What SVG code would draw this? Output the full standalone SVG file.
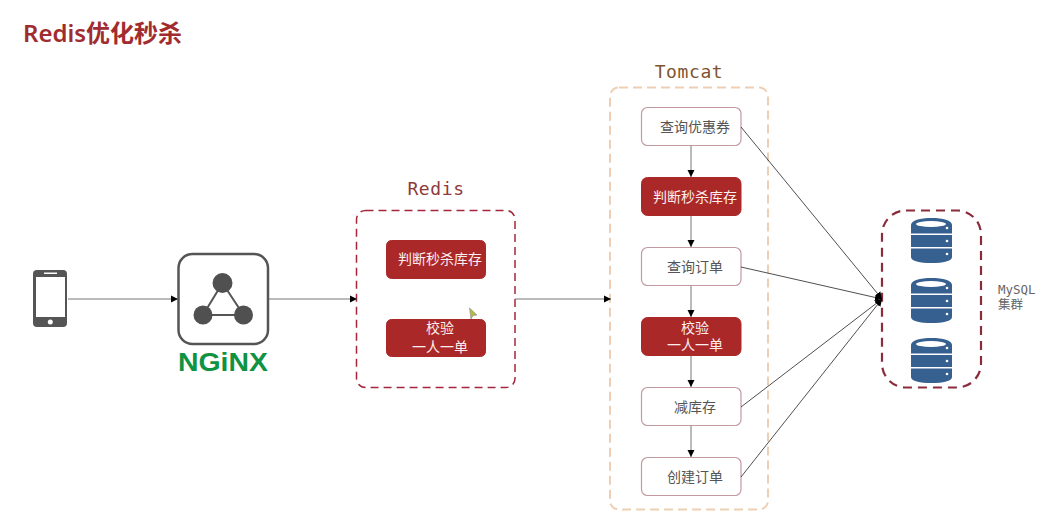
<svg xmlns="http://www.w3.org/2000/svg" width="1052" height="521" viewBox="0 0 1052 521">
<style>
.cn{font-family:"Liberation Sans","Noto Sans CJK SC",sans-serif;font-size:14px}
.mono{font-family:"DejaVu Sans Mono","Noto Sans CJK SC",monospace}
.red rect{fill:#ab2828;stroke:#ab2828;stroke-width:1}
.red text{fill:#fbeeee;text-anchor:middle}
.white rect{fill:#fff;stroke:#c49aa2;stroke-width:1.2}
.white text{fill:#555;text-anchor:middle}
.conn line{stroke:#777;stroke-width:1;fill:none}
.conn .dark{stroke:#222;stroke-width:.8}
.db{fill:#36608f}
</style>
<defs>
<marker id="arr" markerWidth="8" markerHeight="8" refX="7" refY="4" orient="auto" markerUnits="userSpaceOnUse"><path d="M0,0.5L7,4L0,7.5Z" fill="#000"/></marker>
<g id="dbicon">
<path class="db" d="M0,7C0,2.5 9,0 20.5,0S41,2.5 41,7V15.500H0Z"/>
<ellipse cx="20" cy="6" rx="15" ry="3" fill="#fff"/>
<path class="db" d="M0,17H41V29H0Z"/>
<path class="db" d="M0,30.500H41V39C41,43 32,45 20.500,45S0,43 0,39Z"/>
<circle cx="36" cy="10" r="1.300" fill="#fff"/><circle cx="36" cy="23" r="1.300" fill="#fff"/><circle cx="36" cy="36" r="1.300" fill="#fff"/>
</g>
</defs>
<rect width="1052" height="521" fill="#fff"/>
<text x="23" y="42" font-family="'Noto Sans','Noto Sans CJK SC',sans-serif" font-size="24" font-weight="600" fill="#a12c2f">Redis优化秒杀</text>

<g id="redis-group">
<rect x="356.500" y="210.500" width="158.500" height="177" rx="9" fill="#fff" stroke="#a5273c" stroke-width="1.500" stroke-dasharray="8 5"/>
<text class="mono" x="436" y="195" font-size="18" letter-spacing=".6" fill="#8e3a3c" text-anchor="middle">Redis</text>
</g>
<g id="tomcat-group">
<rect x="610" y="87.500" width="158" height="422" rx="9" fill="#fff" stroke="#eecfb3" stroke-width="2" stroke-dasharray="9 5"/>
<text class="mono" x="689" y="78" font-size="18" letter-spacing=".6" fill="#7f5530" text-anchor="middle">Tomcat</text>
</g>
<g id="mysql-group">
<rect x="882" y="210.500" width="99" height="177" rx="24" fill="#fff" stroke="#8a2c3c" stroke-width="2.200" stroke-dasharray="9 6"/>
<text class="mono" x="998" y="294" font-size="12.500" fill="#666">MySQL</text>
<text class="cn" x="998" y="309" style="font-size:12.500px" fill="#666">集群</text>
</g>

<g id="phone">
<rect x="33" y="270" width="34" height="57" rx="4" fill="#555"/>
<rect x="36" y="277" width="29" height="40" fill="#fff"/>
<rect x="44" y="272.500" width="13" height="1.500" fill="#fff"/>
<circle cx="50.300" cy="322" r="2.500" fill="#fff"/>
</g>
<g id="nginx">
<rect x="178.500" y="254" width="89.500" height="90" rx="14" fill="#fff" stroke="#555" stroke-width="2.500"/>
<path d="M222.500,283L203,315H243.500Z" fill="none" stroke="#555" stroke-width="2"/>
<circle cx="222.500" cy="283" r="10" fill="#505050"/>
<circle cx="203" cy="315" r="9.500" fill="#505050"/>
<circle cx="243.500" cy="315" r="9.500" fill="#505050"/>
<text x="178" y="371" font-family="'Liberation Sans',sans-serif" font-size="25" font-weight="700" fill="#0f9342" textLength="90" lengthAdjust="spacingAndGlyphs">NGiNX</text>
</g>

<g id="redis-stock" class="red"><rect x="386.500" y="240.500" width="99" height="38" rx="5"/><text class="cn" x="440" y="264">判断秒杀库存</text></g>
<g id="redis-check" class="red"><rect x="386.500" y="319.500" width="99" height="37" rx="5"/><text class="cn" x="440" y="333">校验</text><text class="cn" x="440" y="352">一人一单</text></g>

<g id="t-query" class="white"><rect x="641.500" y="107.500" width="99.500" height="38" rx="6"/><text class="cn" x="695" y="132">查询优惠券</text></g>
<g id="t-stock" class="red"><rect x="641.500" y="177.500" width="99.500" height="38" rx="6"/><text class="cn" x="695" y="202">判断秒杀库存</text></g>
<g id="t-order" class="white"><rect x="641.500" y="247.500" width="99.500" height="38" rx="6"/><text class="cn" x="695" y="272">查询订单</text></g>
<g id="t-check" class="red"><rect x="641.500" y="317.500" width="99.500" height="38" rx="6"/><text class="cn" x="695" y="333">校验</text><text class="cn" x="695" y="350">一人一单</text></g>
<g id="t-reduce" class="white"><rect x="641.500" y="387.500" width="99.500" height="38" rx="6"/><text class="cn" x="695" y="412">减库存</text></g>
<g id="t-create" class="white"><rect x="641.500" y="457.500" width="99.500" height="38" rx="6"/><text class="cn" x="695" y="482">创建订单</text></g>

<g id="db1"><use href="#dbicon" x="911" y="218"/></g>
<g id="db2"><use href="#dbicon" x="911" y="278"/></g>
<g id="db3"><use href="#dbicon" x="911" y="338"/></g>

<g id="connectors" class="conn">
<line x1="68" y1="299" x2="178" y2="299" marker-end="url(#arr)"/>
<line x1="269" y1="299" x2="357" y2="299" marker-end="url(#arr)"/>
<line x1="515" y1="299" x2="611" y2="299" marker-end="url(#arr)"/>
<line x1="691" y1="146" x2="691" y2="177" marker-end="url(#arr)"/>
<line x1="691" y1="216" x2="691" y2="247" marker-end="url(#arr)"/>
<line x1="691" y1="286" x2="691" y2="317" marker-end="url(#arr)"/>
<line x1="691" y1="356" x2="691" y2="387" marker-end="url(#arr)"/>
<line x1="691" y1="426" x2="691" y2="457" marker-end="url(#arr)"/>
<line class="dark" x1="741" y1="127" x2="882" y2="299" marker-end="url(#arr)"/>
<line class="dark" x1="741" y1="267" x2="882" y2="299" marker-end="url(#arr)"/>
<line class="dark" x1="741" y1="407" x2="882" y2="299" marker-end="url(#arr)"/>
<line class="dark" x1="741" y1="477" x2="882" y2="299" marker-end="url(#arr)"/>
</g>

<g id="cursor"><path d="M469.500,308L477,315L473,315.500L471,319Z" fill="#b5b84a" stroke="#888" stroke-width=".6"/></g>
</svg>
